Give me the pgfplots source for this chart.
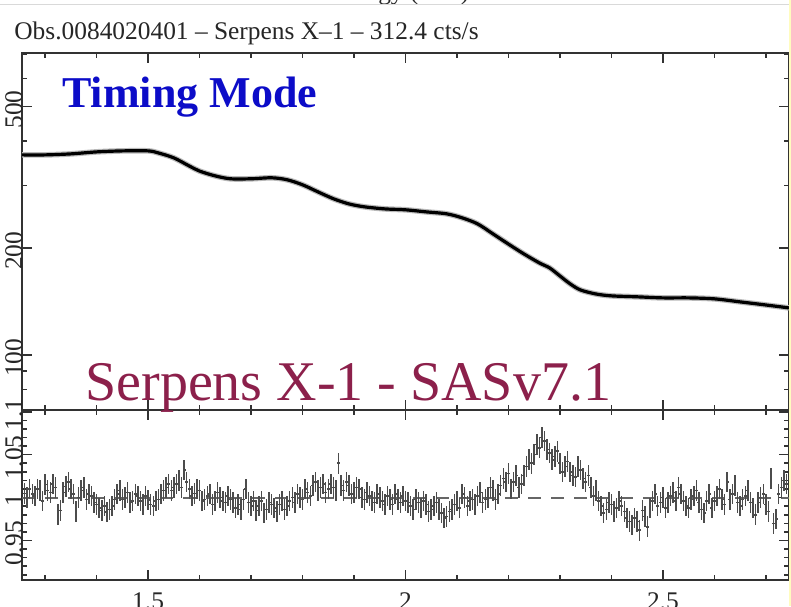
\documentclass[border=0pt]{standalone}
\usepackage{fontspec}
\setmainfont{Liberation Serif}
\usepackage{pgfplots}
\pgfplotsset{compat=1.18}
\usepackage{pgfplotstable}

\definecolor{tmblue}{RGB}{12,12,200}
\definecolor{serp}{RGB}{140,32,75}
\definecolor{axgray}{RGB}{50,50,50}

\pgfplotstableread{
E m
1.255 365.4
1.30 365.4
1.35 367.8
1.40 372.6
1.45 375.0
1.50 375.0
1.52 370.0
1.55 358.4
1.58 340.0
1.60 329.0
1.63 319.0
1.66 313.0
1.70 313.0
1.74 315.0
1.77 311.0
1.80 301.0
1.83 287.5
1.86 275.0
1.89 266.0
1.92 261.0
1.96 257.5
2.00 256.0
2.04 252.6
2.08 249.4
2.11 243.0
2.14 233.7
2.17 219.0
2.20 205.0
2.23 192.4
2.26 181.5
2.28 175.7
2.30 166.8
2.32 158.4
2.34 152.3
2.37 148.4
2.40 146.6
2.45 145.7
2.50 144.7
2.55 144.7
2.60 143.8
2.65 141.0
2.70 138.2
2.745 135.6
}\modeltab

\pgfplotstableread{
E r
1.26 1.005
1.27 1.010
1.28 1.002
1.29 1.008
1.30 1.015
1.31 1.006
1.32 1.012
1.33 0.985
1.34 1.013
1.35 1.010
1.36 0.984
1.37 1.008
1.38 0.998
1.39 1.002
1.40 0.992
1.41 0.985
1.42 0.983
1.43 0.990
1.44 1.004
1.45 0.998
1.46 1.006
1.47 0.996
1.48 1.002
1.49 0.992
1.50 0.997
1.51 0.990
1.52 0.998
1.53 1.008
1.54 1.016
1.55 1.012
1.56 1.020
1.57 1.032
1.58 1.010
1.59 1.005
1.60 1.008
1.61 0.998
1.62 1.004
1.63 0.996
1.64 1.000
1.65 0.994
1.66 0.998
1.67 0.988
1.68 0.986
1.69 1.010
1.70 0.990
1.71 0.985
1.72 0.996
1.73 0.986
1.74 0.992
1.75 0.984
1.76 0.996
1.77 0.990
1.78 1.000
1.79 1.004
1.80 0.998
1.81 1.006
1.82 1.014
1.83 1.008
1.84 1.016
1.85 1.010
1.86 1.012
1.87 1.040
1.88 1.008
1.89 1.014
1.90 1.006
1.91 1.010
1.92 0.998
1.93 1.002
1.94 0.994
1.95 1.000
1.96 0.992
1.97 0.998
1.98 1.004
1.99 0.994
2.00 0.996
2.01 0.990
2.02 0.998
2.03 0.988
2.04 0.992
2.05 0.986
2.06 0.994
2.07 0.982
2.08 0.978
2.09 0.986
2.10 0.996
2.11 1.004
2.12 0.990
2.13 0.998
2.14 1.002
2.15 0.994
2.16 1.000
2.17 1.008
2.18 1.004
2.19 1.022
2.20 1.028
2.21 1.018
2.22 1.012
2.23 1.026
2.24 1.044
2.25 1.050
2.26 1.058
2.27 1.066
2.28 1.052
2.29 1.048
2.30 1.040
2.31 1.036
2.32 1.030
2.33 1.024
2.34 1.032
2.35 1.018
2.36 1.012
2.37 1.008
2.38 0.990
2.39 0.986
2.40 0.992
2.41 0.988
2.42 0.990
2.43 0.976
2.44 0.968
2.45 0.972
2.46 0.985
2.47 0.966
2.48 0.996
2.49 0.990
2.50 1.000
2.51 0.994
2.52 1.006
2.53 1.012
2.54 0.996
2.55 0.988
2.56 1.002
2.57 0.994
2.58 0.982
2.59 1.004
2.60 0.996
2.61 1.010
2.62 0.992
2.63 0.998
2.64 1.014
2.65 0.990
2.66 1.002
2.67 0.994
2.68 0.980
2.69 1.000
2.70 0.992
2.71 1.022
2.72 0.975
2.73 1.012
2.74 1.016
}\restab

\pgfplotstableread{
E r
1.265 1.000
1.275 1.004
1.285 1.010
1.295 0.996
1.305 1.008
1.315 1.016
1.325 0.980
1.335 1.006
1.345 1.018
1.355 1.004
1.365 1.000
1.375 1.012
1.385 1.004
1.395 0.994
1.405 0.988
1.415 0.990
1.425 0.986
1.435 0.998
1.445 1.008
1.455 1.000
1.465 0.994
1.475 1.004
1.485 0.996
1.495 1.002
1.505 0.992
1.515 0.996
1.525 1.004
1.535 1.012
1.545 1.008
1.555 1.016
1.565 1.012
1.575 1.018
1.585 1.002
1.595 1.010
1.605 0.996
1.615 1.002
1.625 0.992
1.635 1.006
1.645 0.996
1.655 1.002
1.665 0.994
1.675 0.992
1.685 0.998
1.695 0.994
1.705 0.996
1.715 0.990
1.725 0.982
1.735 0.994
1.745 0.988
1.755 0.992
1.765 0.986
1.775 0.996
1.785 0.994
1.795 1.000
1.805 1.010
1.815 1.002
1.825 1.018
1.835 1.012
1.845 1.006
1.855 1.016
1.865 1.008
1.875 1.014
1.885 1.018
1.895 1.004
1.905 1.012
1.915 1.000
1.925 1.006
1.935 0.996
1.945 1.004
1.955 0.996
1.965 1.002
1.975 0.992
1.985 0.998
1.995 1.002
2.005 0.994
2.015 0.986
2.025 0.994
2.035 0.996
2.045 0.984
2.055 0.990
2.065 0.986
2.075 0.976
2.085 0.984
2.095 0.992
2.105 0.988
2.115 1.000
2.125 0.996
2.135 0.992
2.145 1.006
2.155 0.998
2.165 1.012
2.175 0.998
2.185 1.014
2.195 1.018
2.205 1.010
2.215 1.026
2.225 1.016
2.235 1.036
2.245 1.040
2.255 1.062
2.265 1.070
2.275 1.056
2.285 1.044
2.295 1.054
2.305 1.030
2.315 1.042
2.325 1.026
2.335 1.036
2.345 1.022
2.355 1.026
2.365 1.002
2.375 0.996
2.385 0.982
2.395 0.994
2.405 0.984
2.415 0.996
2.425 0.984
2.435 0.972
2.445 0.976
2.455 0.962
2.465 0.978
2.475 0.988
2.485 1.004
2.495 0.994
2.505 0.988
2.515 1.002
2.525 0.996
2.535 1.004
2.545 0.990
2.555 0.998
2.565 1.008
2.575 0.986
2.585 0.996
2.595 0.988
2.605 1.002
2.615 0.998
2.625 1.018
2.635 1.004
2.645 0.994
2.655 0.998
2.665 1.008
2.675 0.988
2.685 0.994
2.695 1.004
2.705 0.984
2.715 0.970
2.725 1.004
2.735 1.020
}\restabb

\pgfplotsset{
  xspecaxis/.style={
    scale only axis,
    width=383.5pt,
    xmin=1.255, xmax=2.745,
    axis line style={axgray, line width=0.9pt},
    tick style={axgray, line width=0.8pt},
    major tick length=5pt,
    minor tick length=2.5pt,
    tick align=inside,
    xtick pos=both, ytick pos=both,
    xtick={1.5,2,2.5},
    minor xtick={1.3,1.4,1.6,1.7,1.8,1.9,2.1,2.2,2.3,2.4,2.6,2.7},
    /pgf/number format/assume math mode=true,
    ticklabel style={font=\fontsize{12.7}{14}\selectfont, text=black!85},
    yticklabel style={rotate=90, anchor=base, xshift=-1.5pt},
    clip=true,
  },
  resbars/.style={draw=none, no markers,
    error bars/.cd, y dir=both, y fixed=0.012, x dir=both, x fixed=0.0028,
    error mark=none, error bar style={draw=black!70, line width=0.75pt}},
}

\begin{document}
\begin{tikzpicture}
\useasboundingbox (0,0) rectangle (395.5pt,303pt);
\clip (0,0) rectangle (395.5pt,303pt);
\fill[white] (0,0) rectangle (395.5pt,303pt);

% upper panel
\begin{axis}[xspecaxis,
  at={(11pt,98pt)}, anchor=south west,
  height=178.5pt,
  ymode=log, ymin=70, ymax=707,
  ytick={100,200,500}, yticklabels={100,200,500},
  minor ytick={70,80,90,300,400,600,700},
  xticklabels={},
]
\addplot[gray!55, line width=2.8pt, smooth] table[x=E,y=m] {\modeltab};
\addplot[black, line width=1.6pt, smooth] table[x=E,y=m] {\modeltab};
\end{axis}

% lower panel (ratio)
\begin{axis}[xspecaxis,
  at={(11pt,13pt)}, anchor=south west,
  height=85pt,
  ymin=0.904, ymax=1.102,
  ytick={0.95,1,1.05,1.1}, yticklabels={0.95,1,1.05,1.1},
  minor ytick={0.91,0.92,0.93,0.94,0.96,0.97,0.98,0.99,1.01,1.02,1.03,1.04,1.06,1.07,1.08,1.09},
  xticklabels={1.5,2,2.5},
  xticklabel style={yshift=-3pt},
]
\addplot[black!60, line width=1pt, dash pattern=on 6.5pt off 5pt] coordinates {(1.255,1) (2.745,1)};
\addplot[resbars] table[x=E,y=r] {\restab};
\addplot[resbars] table[x=E,y=r] {\restabb};
\end{axis}

% texts
\node[anchor=base west, inner sep=0, font=\fontsize{12.7}{14}\selectfont, text=black!85]
  at (7pt,283pt) {Obs.0084020401 -- Serpens X--1 -- 312.4 cts/s};
\node[anchor=base, inner sep=0, font=\fontsize{12.7}{14}\selectfont, text=black!85]
  at (200pt,303pt) {Energy (keV)};
\draw[black!15, line width=0.9pt] (0,300.7pt) -- (395.5pt,300.7pt);
\node[anchor=base west, inner sep=0, font=\fontsize{22}{24}\selectfont\bfseries, text=tmblue]
  at (31pt,249pt) {Timing Mode};
\node[anchor=base west, inner sep=0, font=\fontsize{28}{30}\selectfont, text=serp]
  at (42.5pt,103pt) {Serpens X-1 - SASv7.1};
\fill[yellow!25] (394.6pt,0) rectangle (395.5pt,303pt);
\end{tikzpicture}
\end{document}
